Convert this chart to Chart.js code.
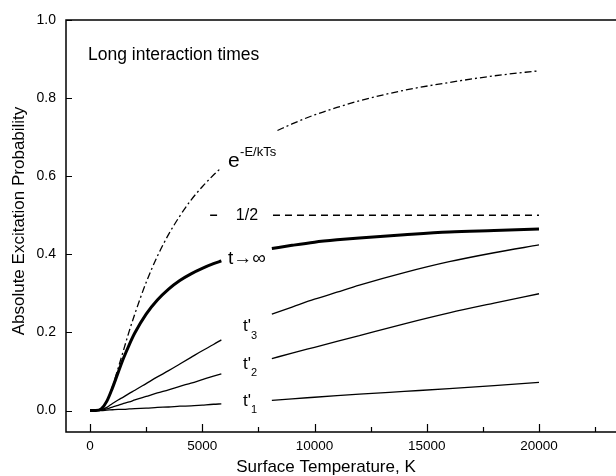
<!DOCTYPE html>
<html>
<head>
<meta charset="utf-8">
<script src="https://cdn.jsdelivr.net/npm/chart.js@4/dist/chart.umd.min.js"></script>
<style>
  html, body { margin: 0; padding: 0; background: #fff; overflow: hidden; }
</style>
</head>
<body>
<canvas id="c" width="616" height="476"></canvas>
<script>
// surface temperature (K), split where the curve labels sit
const tempLow  = [0, 250, 500, 750, 1000, 1250, 1500, 1750, 2000, 2500, 3000, 3500, 4000, 4500, 5000, 5500, 5850];
const tempHigh = [8100, 9000, 10000, 11000, 12000, 14000, 16000, 18000, 20000];

// t -> infinity (thick)
const infLow  = [0, 0, 0.004, 0.024, 0.058, 0.097, 0.135, 0.169, 0.199, 0.247, 0.283, 0.311, 0.333, 0.350, 0.364, 0.376, 0.383];
const infHigh = [0.415, 0.423, 0.431, 0.437, 0.442, 0.450, 0.457, 0.461, 0.465];

// t'3, t'2, t'1
const t3Low  = [0, 0, 0.002, 0.008, 0.018, 0.027, 0.035, 0.044, 0.052, 0.069, 0.086, 0.102, 0.119, 0.136, 0.153, 0.169, 0.181];
const t3High = [0.247, 0.265, 0.285, 0.303, 0.321, 0.353, 0.381, 0.404, 0.424];
const t2Low  = [0, 0, 0.001, 0.004, 0.009, 0.013, 0.018, 0.022, 0.027, 0.036, 0.045, 0.053, 0.062, 0.070, 0.079, 0.088, 0.094];
const t2High = [0.133, 0.147, 0.162, 0.177, 0.192, 0.222, 0.250, 0.275, 0.299];
const t1Low  = [0, 0, 0, 0.001, 0.002, 0.003, 0.003, 0.004, 0.005, 0.006, 0.008, 0.009, 0.011, 0.012, 0.014, 0.016, 0.017];
const t1High = [0.026, 0.030, 0.034, 0.038, 0.042, 0.049, 0.056, 0.064, 0.072];

// e^(-E/kTs) (dash-dot), gap for its label
const expTemp = [0, 250, 500, 750, 1000, 1250, 1500, 1750, 2000, 2500, 3000, 3500, 4000, 4500, 5000, 5500, 5800, 7000, 8350, 9000, 10000, 11000, 12000, 14000, 16000, 18000, 20000];
const expProb = [0, 0, 0.004, 0.024, 0.062, 0.108, 0.156, 0.204, 0.248, 0.328, 0.395, 0.451, 0.498, 0.539, 0.573, 0.603, 0.619, null, 0.717, 0.734, 0.757, 0.776, 0.793, 0.820, 0.840, 0.857, 0.870];

// 1/2 limit (dashed)
const halfTemp = [5350, 5660, 7000, 8150, 20000];
const halfProb = [0.5, 0.5, null, 0.5, 0.5];

const xTicks = [0, 5000, 10000, 15000, 20000];
const xMinor = [2500, 7500, 12500, 17500, 22500];
const yTicks = [0, 0.2, 0.4, 0.6, 0.8, 1.0];

// curve labels, in data coordinates
const labels = [
  { text: '1/2', x: 6990, y: 0.5, size: 16 },
  { text: 't\u2192\u221E', x: 6990, y: 0.389, size: 19 }
];
const primeLabels = [
  { sub: '3', x: 6815, y: 0.215 },
  { sub: '2', x: 6815, y: 0.118 },
  { sub: '1', x: 6815, y: 0.024 }
];

function pts(xs, ys) {
  return xs.map((x, i) => ({ x: x, y: ys[i] }));
}
function split(low, high) {
  return pts(tempLow, low).concat([{ x: 7000, y: null }], pts(tempHigh, high));
}

const FONT = "'Liberation Sans', Arial, sans-serif";
Chart.defaults.font.family = FONT;
Chart.defaults.color = '#000';

const thin = { borderColor: '#000', borderWidth: 1.3, pointRadius: 0, fill: false, cubicInterpolationMode: 'monotone' };

const overlay = {
  id: 'overlay',
  afterDraw(chart) {
    const { ctx, chartArea: a, scales: { x, y } } = chart;
    ctx.save();
    ctx.strokeStyle = '#000';
    ctx.lineWidth = 1.5;
    ctx.beginPath();
    ctx.moveTo(a.right + 5, a.top);
    ctx.lineTo(a.left, a.top);
    ctx.lineTo(a.left, a.bottom);
    ctx.lineTo(a.right + 5, a.bottom);
    ctx.stroke();

    ctx.lineWidth = 1.2;
    ctx.beginPath();
    xTicks.forEach(v => { const px = Math.round(x.getPixelForValue(v)) + 0.5; ctx.moveTo(px, a.bottom); ctx.lineTo(px, a.bottom - 8); });
    xMinor.forEach(v => { const px = Math.round(x.getPixelForValue(v)) + 0.5; ctx.moveTo(px, a.bottom); ctx.lineTo(px, a.bottom - 5); });
    yTicks.forEach(v => { const py = Math.round(y.getPixelForValue(v)) + 0.5; ctx.moveTo(a.left, py); ctx.lineTo(a.left + 6, py); });
    ctx.stroke();

    ctx.fillStyle = '#000';
    ctx.textBaseline = 'middle';

    ctx.font = '17.5px ' + FONT;
    ctx.textAlign = 'left';
    ctx.fillText('Long interaction times', 88, 55);

    ctx.textAlign = 'center';
    labels.forEach(l => {
      ctx.font = l.size + 'px ' + FONT;
      ctx.fillText(l.text, x.getPixelForValue(l.x), y.getPixelForValue(l.y));
    });

    ctx.textAlign = 'left';
    primeLabels.forEach(l => {
      const px = x.getPixelForValue(l.x), py = y.getPixelForValue(l.y);
      ctx.font = '17px ' + FONT;
      ctx.fillText("t'", px, py);
      ctx.font = '11px ' + FONT;
      ctx.fillText(l.sub, px + 8, py + 9);
    });

    // e^(-E/kTs)
    ctx.textBaseline = 'alphabetic';
    const ex = x.getPixelForValue(6150), ey = y.getPixelForValue(0.624);
    ctx.font = '21px ' + FONT;
    ctx.fillText('e', ex, ey);
    ctx.font = '13px ' + FONT;
    ctx.fillText('-E/kTs', ex + 12, ey - 11);

    // axis titles
    ctx.textBaseline = 'middle';
    ctx.textAlign = 'center';
    ctx.font = '17px ' + FONT;
    ctx.fillText('Surface Temperature, K', 326, 467);
    ctx.translate(19, 221);
    ctx.rotate(-Math.PI / 2);
    ctx.fillText('Absolute Excitation Probability', 0, 0);
    ctx.restore();
  }
};

new Chart(document.getElementById('c'), {
  type: 'line',
  data: {
    datasets: [
      Object.assign({}, thin, { label: 'exp', data: pts(expTemp, expProb), borderDash: [7, 3, 2, 3] }),
      Object.assign({}, thin, { label: 'half', data: pts(halfTemp, halfProb), borderDash: [7, 5], cubicInterpolationMode: 'default', tension: 0 }),
      Object.assign({}, thin, { label: "t'1", data: split(t1Low, t1High) }),
      Object.assign({}, thin, { label: "t'2", data: split(t2Low, t2High) }),
      Object.assign({}, thin, { label: "t'3", data: split(t3Low, t3High) }),
      Object.assign({}, thin, { label: 'inf', data: split(infLow, infHigh), borderWidth: 3 })
    ]
  },
  options: {
    responsive: false,
    animation: false,
    layout: { padding: { top: 20, right: 0, left: 0, bottom: 0 } },
    plugins: { legend: { display: false }, tooltip: { enabled: false } },
    scales: {
      x: {
        type: 'linear',
        min: -1070,
        max: 23430,
        afterFit: s => { s.height = 44; },
        afterBuildTicks: s => { s.ticks = xTicks.map(v => ({ value: v })); },
        grid: { display: false, drawTicks: false },
        border: { display: false },
        ticks: { padding: 6, font: { size: 13.5 }, maxRotation: 0, callback: v => String(v) }
      },
      y: {
        min: -0.055,
        max: 1.0,
        afterFit: s => { s.width = 66; },
        afterBuildTicks: s => { s.ticks = yTicks.map(v => ({ value: v })); },
        grid: { display: false, drawTicks: false },
        border: { display: false },
        ticks: { padding: 10, font: { size: 14 }, callback: v => v.toFixed(1) }
      }
    }
  },
  plugins: [overlay]
});
</script>
</body>
</html>
